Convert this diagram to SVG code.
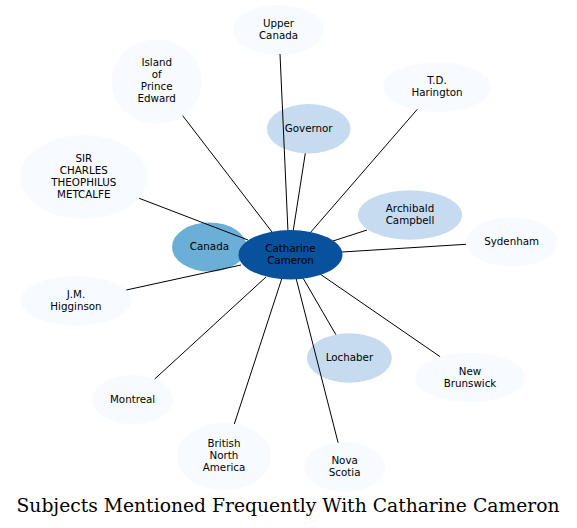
<svg xmlns="http://www.w3.org/2000/svg" width="577" height="528" viewBox="0 0 577 528">
<style>
.l0{fill:#f7fbff}
.l1{fill:#c6dbef}
.l2{fill:#6baed6}
.l3{fill:#08519c}
text{font-family:"DejaVu Sans",sans-serif;font-size:10.3px;fill:#000;text-anchor:middle}
.e line{stroke:#000;stroke-width:1}
.title{font-family:"DejaVu Serif",serif;font-size:18.5px}
</style>
<rect width="577" height="528" fill="#fff"/>
<g id="upper-canada"><ellipse class="l0" cx="278.5" cy="30" rx="45.5" ry="25"/><text x="278.5" y="27">Upper</text><text x="278.5" y="39">Canada</text></g>
<g id="island"><ellipse class="l0" cx="156.7" cy="81.7" rx="45" ry="42.3"/><text x="156.7" y="66">Island</text><text x="156.7" y="78">of</text><text x="156.7" y="90">Prince</text><text x="156.7" y="102">Edward</text></g>
<g id="td-harington"><ellipse class="l0" cx="437" cy="87" rx="54" ry="25"/><text x="437" y="84">T.D.</text><text x="437" y="96">Harington</text></g>
<g id="governor"><ellipse class="l1" cx="308.7" cy="128.7" rx="41.8" ry="24.7"/><text x="308.7" y="132">Governor</text></g>
<g id="sir-charles"><ellipse class="l0" cx="83.8" cy="177" rx="63.5" ry="42"/><text x="83.8" y="162">SIR</text><text x="83.8" y="174">CHARLES</text><text x="83.8" y="186">THEOPHILUS</text><text x="83.8" y="198">METCALFE</text></g>
<g id="archibald"><ellipse class="l1" cx="410" cy="215" rx="52" ry="24.7"/><text x="410" y="212">Archibald</text><text x="410" y="224">Campbell</text></g>
<g id="sydenham"><ellipse class="l0" cx="511.6" cy="242" rx="45.7" ry="24.7"/><text x="511.6" y="245">Sydenham</text></g>
<g id="canada"><ellipse class="l2" cx="209.4" cy="247" rx="37.4" ry="24.5"/><text x="209.4" y="250">Canada</text></g>
<g id="jm-higginson"><ellipse class="l0" cx="76" cy="300.7" rx="55" ry="25"/><text x="76" y="297.5">J.M.</text><text x="76" y="309.5">Higginson</text></g>
<g id="montreal"><ellipse class="l0" cx="132.6" cy="399.5" rx="40.5" ry="24.5"/><text x="132.6" y="402.5">Montreal</text></g>
<g id="bna"><ellipse class="l0" cx="224" cy="456.3" rx="47" ry="33.7"/><text x="224" y="447">British</text><text x="224" y="459">North</text><text x="224" y="471">America</text></g>
<g id="nova-scotia"><ellipse class="l0" cx="344.6" cy="467" rx="40.5" ry="25"/><text x="344.6" y="464">Nova</text><text x="344.6" y="476">Scotia</text></g>
<g id="lochaber"><ellipse class="l1" cx="349.4" cy="358" rx="42.5" ry="24.7"/><text x="349.4" y="361">Lochaber</text></g>
<g id="new-brunswick"><ellipse class="l0" cx="470" cy="377.5" rx="55" ry="24.8"/><text x="470" y="374.5">New</text><text x="470" y="386.5">Brunswick</text></g>
<g id="connectors" class="e">
<line x1="280" y1="54" x2="288" y2="232"/>
<line x1="182.7" y1="115.7" x2="272" y2="232"/>
<line x1="305.3" y1="153.3" x2="293" y2="232"/>
<line x1="417.3" y1="109.3" x2="310" y2="233"/>
<line x1="139.2" y1="198.3" x2="248" y2="240"/>
<line x1="367" y1="230" x2="333" y2="241"/>
<line x1="466" y1="244.3" x2="342" y2="252"/>
<line x1="126.3" y1="290" x2="241" y2="265"/>
<line x1="154.7" y1="379" x2="266" y2="277"/>
<line x1="234.3" y1="424" x2="282" y2="278"/>
<line x1="338.1" y1="442.7" x2="296" y2="278"/>
<line x1="335.9" y1="334.7" x2="303" y2="278"/>
<line x1="440.1" y1="356.7" x2="320" y2="274"/>
</g>
<g id="catharine-cameron"><ellipse class="l3" cx="290.5" cy="254.7" rx="52" ry="24.7"/><text x="290.5" y="251.7">Catharine</text><text x="290.5" y="263.7">Cameron</text></g>
<text class="title" x="288" y="512" textLength="543" lengthAdjust="spacingAndGlyphs">Subjects Mentioned Frequently With Catharine Cameron</text>
</svg>
